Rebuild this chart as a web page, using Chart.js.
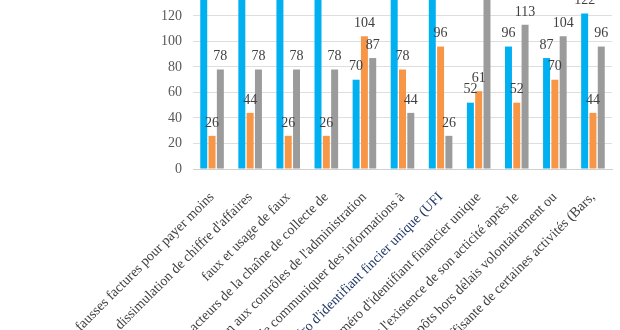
<!DOCTYPE html>
<html lang="fr">
<head>
<meta charset="UTF-8">
<title>Pratiques frauduleuses</title>
<script src="https://cdn.jsdelivr.net/npm/chart.js"></script>
<style>
  html, body { margin: 0; padding: 0; background: #ffffff; }
  #contenedor { width: 620px; height: 330px; position: relative; overflow: hidden; }
</style>
</head>
<body>
<div id="contenedor">
  <canvas id="grafico" width="620" height="330"></canvas>
</div>
<script>
// categorías (eje X)
const categorias = [
    "fausses factures pour payer moins",
    "dissimulation de chiffre d'affaires",
    "faux et usage de faux",
    "Implication des acteurs de la chaîne de collecte de",
    "Opposition aux contrôles de l'administration",
    "Refus de communiquer des informations à",
    "Absence de numéro d'identifiant fincier unique (UFI",
    "Faux numéro d'identifiant financier unique",
    "Déclarer l'existence de son acticité après le",
    "Payer ses impôts hors délais volontairement ou",
    "Fiscalisation insuffisante de certaines activités (Bars,"
];

// series
const serieAzul = [157, 148, 165, 157, 70, 148, 139, 52, 96, 87, 122];
const serieNaranja = [26, 44, 26, 26, 104, 78, 96, 61, 52, 70, 44];
const serieGris = [78, 78, 78, 78, 87, 44, 26, 139, 113, 104, 96];

// eje Y
const ejeMin = 0;
const ejeMax = 132.5;
const ejePaso = 20;

const fuente = "'Liberation Serif', 'Times New Roman', serif";

// etiquetas de valor encima de cada barra
const etiquetasValores = {
    id: "etiquetasValores",
    afterDatasetsDraw(chart) {
        const ctx = chart.ctx;
        ctx.save();
        ctx.font = "14px " + fuente;
        ctx.fillStyle = "#404040";
        ctx.textAlign = "center";
        ctx.textBaseline = "middle";
        chart.data.datasets.forEach((ds, i) => {
            chart.getDatasetMeta(i).data.forEach((barra, j) => {
                ctx.fillText(String(ds.data[j]), barra.x, barra.y - 13);
            });
        });
        ctx.restore();
    }
};

const barraComun = { categoryPercentage: 0.654, barPercentage: 0.84, borderWidth: 0 };

new Chart(document.getElementById("grafico").getContext("2d"), {
    type: "bar",
    data: {
        labels: categorias,
        datasets: [
            Object.assign({ label: "Série 1", data: serieAzul, backgroundColor: "#00b0f0" }, barraComun),
            Object.assign({ label: "Série 2", data: serieNaranja, backgroundColor: "#f79646" }, barraComun),
            Object.assign({ label: "Série 3", data: serieGris, backgroundColor: "#9b9b9b" }, barraComun)
        ]
    },
    options: {
        responsive: false,
        animation: false,
        devicePixelRatio: 1,
        layout: { padding: { left: 0, right: 8, top: 0, bottom: 0 } },
        plugins: { legend: { display: false }, tooltip: { enabled: false } },
        scales: {
            x: {
                grid: { display: false, drawTicks: false },
                border: { display: true, color: "#d0d0d0", width: 1 },
                ticks: {
                    autoSkip: false,
                    minRotation: 45,
                    maxRotation: 45,
                    padding: 20,
                    font: { family: fuente, size: 14 },
                    color: (c) => c.index === 6 ? "#203864" : "#404040"
                },
                afterFit(escala) {
                    escala.height = 161;
                    escala.paddingLeft = 0;
                    escala.paddingRight = 0;
                }
            },
            y: {
                min: ejeMin,
                max: ejeMax,
                grid: { color: "#dedede", drawTicks: false },
                border: { display: false },
                ticks: {
                    stepSize: ejePaso,
                    includeBounds: false,
                    padding: 11,
                    font: { family: fuente, size: 14 },
                    color: "#595959"
                },
                afterFit(escala) {
                    escala.width = 193;
                    escala.paddingTop = 0;
                    escala.paddingBottom = 0;
                }
            }
        }
    },
    plugins: [etiquetasValores]
});
</script>
</body>
</html>
